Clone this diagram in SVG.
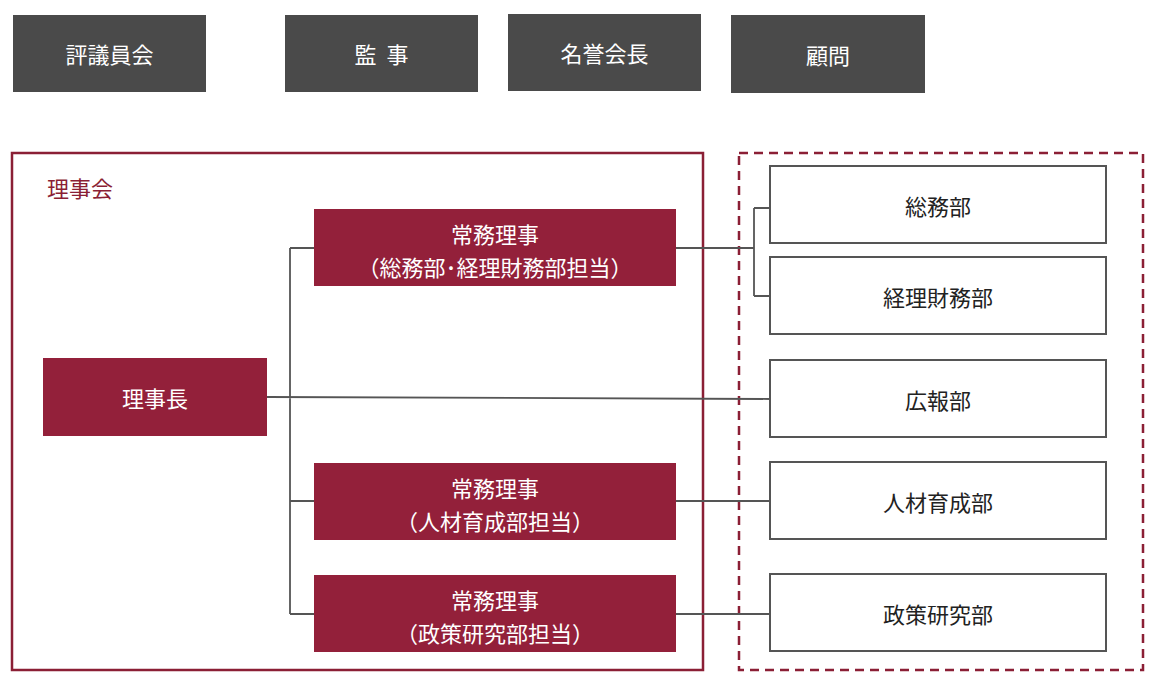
<svg xmlns="http://www.w3.org/2000/svg" width="1153" height="680" viewBox="0 0 1153 680">
<style>
text{font-family:"Noto Sans CJK JP","Noto Sans",sans-serif;font-size:22px;text-anchor:middle;dominant-baseline:central}
.g{fill:#4a4a4a}.r{fill:#93203a}.w{fill:#fff;stroke:#555;stroke-width:2}
.wt{fill:#fff}.bt{fill:#222}
.c{stroke:#555;stroke-width:1.8;fill:none}
</style>
<rect width="1153" height="680" fill="#fff"/>
<g id="hyogiinkai"><rect class="g" x="13" y="15" width="193" height="77"/><text class="wt" x="109.5" y="53">評議員会</text></g>
<g id="kanji"><rect class="g" x="285" y="15" width="193" height="77"/><text class="wt" x="381.5" y="53" xml:space="preserve">監  事</text></g>
<g id="meiyokaicho"><rect class="g" x="508" y="14" width="193" height="77"/><text class="wt" x="604.5" y="52">名誉会長</text></g>
<g id="komon"><rect class="g" x="731" y="15" width="194" height="78"/><text class="wt" x="828" y="54">顧問</text></g>
<g id="rijikai"><rect x="12" y="153" width="691" height="517" fill="none" stroke="#8b1f35" stroke-width="2.5"/><text x="80" y="187" fill="#8b1f35" style="font-size:22px">理事会</text></g>
<g id="bumon"><rect x="739" y="153" width="404" height="517" fill="none" stroke="#8b1f35" stroke-width="2.5" stroke-dasharray="9,6"/></g>
<g id="connectors">
<path class="c" d="M290 248V614M290 248H314M290 501H314M290 614H314M267 397L770 399M676 248H754M754 208V296M754 208H770M754 296H770M676 501H770M676 614H770"/>
</g>
<g id="rijicho"><rect class="r" x="43" y="358" width="224" height="78"/><text class="wt" x="155" y="397">理事長</text></g>
<g id="jomu1"><rect class="r" x="314" y="209" width="362" height="77"/><text class="wt" x="495" y="233">常務理事</text><text class="wt" x="495" y="266">（総務部･経理財務部担当）</text></g>
<g id="jomu2"><rect class="r" x="314" y="463" width="362" height="77"/><text class="wt" x="495" y="487">常務理事</text><text class="wt" x="495" y="520">（人材育成部担当）</text></g>
<g id="jomu3"><rect class="r" x="314" y="575" width="362" height="77"/><text class="wt" x="495" y="599">常務理事</text><text class="wt" x="495" y="632">（政策研究部担当）</text></g>
<g id="somubu"><rect class="w" x="770" y="166" width="336" height="77"/><text class="bt" x="938" y="205">総務部</text></g>
<g id="keiri"><rect class="w" x="770" y="257" width="336" height="77"/><text class="bt" x="938" y="296">経理財務部</text></g>
<g id="koho"><rect class="w" x="770" y="360" width="336" height="77"/><text class="bt" x="938" y="399">広報部</text></g>
<g id="jinzai"><rect class="w" x="770" y="462" width="336" height="77"/><text class="bt" x="938" y="501">人材育成部</text></g>
<g id="seisaku"><rect class="w" x="770" y="574" width="336" height="77"/><text class="bt" x="938" y="613">政策研究部</text></g>
</svg>
